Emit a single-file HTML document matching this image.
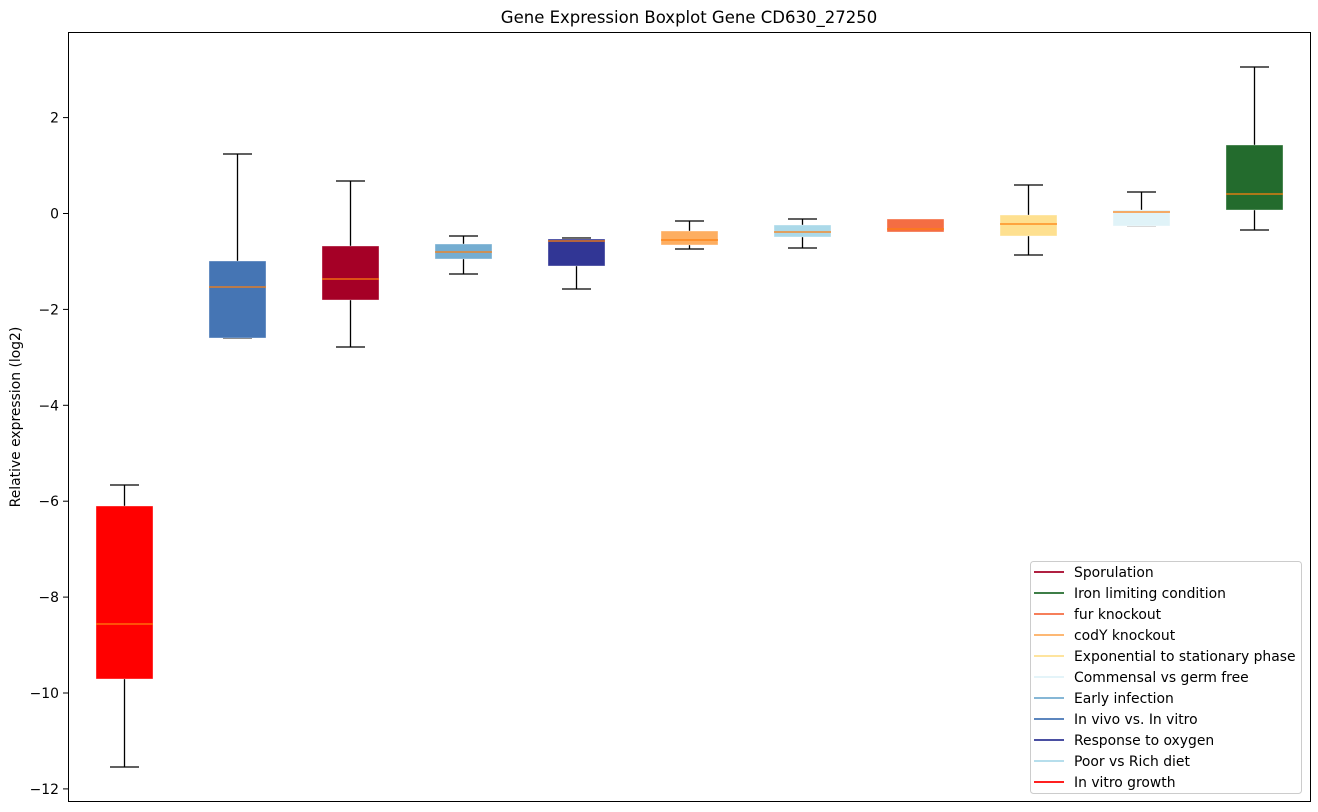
<!DOCTYPE html>
<html><head><meta charset="utf-8"><style>body{margin:0;background:#fff}svg{display:block;font-family:"DejaVu Sans","Liberation Sans",sans-serif}</style></head>
<body>
<svg width="1318" height="812" viewBox="0 0 1318 812" xmlns="http://www.w3.org/2000/svg">
<rect width="1318" height="812" fill="#fff"/>
<text x="689" y="23" font-size="16.5" text-anchor="middle" fill="#000">Gene Expression Boxplot Gene CD630_27250</text>
<g font-size="13.9" fill="#000" text-anchor="end">
<line x1="63" x2="68" y1="117.6" y2="117.6" stroke="#000"/><text x="59" y="122.6">2</text>
<line x1="63" x2="68" y1="213.5" y2="213.5" stroke="#000"/><text x="59" y="218.5">0</text>
<line x1="63" x2="68" y1="309.4" y2="309.4" stroke="#000"/><text x="59" y="314.4">−2</text>
<line x1="63" x2="68" y1="405.3" y2="405.3" stroke="#000"/><text x="59" y="410.3">−4</text>
<line x1="63" x2="68" y1="501.2" y2="501.2" stroke="#000"/><text x="59" y="506.2">−6</text>
<line x1="63" x2="68" y1="597.1" y2="597.1" stroke="#000"/><text x="59" y="602.1">−8</text>
<line x1="63" x2="68" y1="693" y2="693" stroke="#000"/><text x="59" y="698">−10</text>
<line x1="63" x2="68" y1="788.9" y2="788.9" stroke="#000"/><text x="59" y="793.9">−12</text>
</g>
<text transform="translate(20,417) rotate(-90)" font-size="13.9" text-anchor="middle">Relative expression (log2)</text>
<g stroke="#000" stroke-width="1.3">
<line x1="124.5" x2="124.5" y1="485" y2="506"/><line x1="124.5" x2="124.5" y1="679" y2="767"/><line x1="110" x2="139" y1="485" y2="485"/><line x1="110" x2="139" y1="767" y2="767"/>
<line x1="237.5" x2="237.5" y1="154" y2="261"/><line x1="223" x2="252" y1="154" y2="154"/><line x1="223" x2="252" y1="338" y2="338"/>
<line x1="350.5" x2="350.5" y1="181" y2="246"/><line x1="350.5" x2="350.5" y1="300" y2="347"/><line x1="336" x2="365" y1="181" y2="181"/><line x1="336" x2="365" y1="347" y2="347"/>
<line x1="463.5" x2="463.5" y1="236" y2="244"/><line x1="463.5" x2="463.5" y1="259" y2="274"/><line x1="449" x2="478" y1="236" y2="236"/><line x1="449" x2="478" y1="274" y2="274"/>
<line x1="576.5" x2="576.5" y1="266" y2="289"/><line x1="562" x2="591" y1="238" y2="238"/><line x1="562" x2="591" y1="289" y2="289"/>
<line x1="689.5" x2="689.5" y1="221" y2="231"/><line x1="689.5" x2="689.5" y1="245" y2="249"/><line x1="675" x2="704" y1="221" y2="221"/><line x1="675" x2="704" y1="249" y2="249"/>
<line x1="802.5" x2="802.5" y1="219" y2="225"/><line x1="802.5" x2="802.5" y1="237" y2="248"/><line x1="788" x2="817" y1="219" y2="219"/><line x1="788" x2="817" y1="248" y2="248"/>
<line x1="1028.5" x2="1028.5" y1="185" y2="215"/><line x1="1028.5" x2="1028.5" y1="236" y2="255"/><line x1="1014" x2="1043" y1="185" y2="185"/><line x1="1014" x2="1043" y1="255" y2="255"/>
<line x1="1141.5" x2="1141.5" y1="192" y2="210"/><line x1="1127" x2="1156" y1="192" y2="192"/><line x1="1127" x2="1156" y1="226" y2="226" stroke="#aaa"/>
<line x1="1254.5" x2="1254.5" y1="67" y2="145"/><line x1="1254.5" x2="1254.5" y1="210" y2="230"/><line x1="1240" x2="1269" y1="67" y2="67"/><line x1="1240" x2="1269" y1="230" y2="230"/>
</g>
<g stroke="#fff" stroke-width="0.6" stroke-opacity="0.6">
<rect x="96" y="506" width="57" height="173" fill="#ff0000"/>
<rect x="209" y="261" width="57" height="77" fill="#4575b4"/>
<rect x="322" y="246" width="57" height="54" fill="#a50026"/>
<rect x="435" y="244" width="57" height="15" fill="#74add1"/>
<rect x="548" y="239" width="57" height="27" fill="#313695"/>
<rect x="661" y="231" width="57" height="14" fill="#fdae61"/>
<rect x="774" y="225" width="57" height="12" fill="#abd9e9"/>
<rect x="887" y="219" width="57" height="13" fill="#f46d43"/>
<rect x="1000" y="215" width="57" height="21" fill="#fee090"/>
<rect x="1113" y="210" width="57" height="16" fill="#e0f3f8"/>
<rect x="1226" y="145" width="57" height="65" fill="#236b2d"/>
</g>
<g stroke="#ff7f0e" stroke-width="1.2">
<line x1="96" x2="153" y1="624" y2="624"/>
<line x1="209" x2="266" y1="287" y2="287"/>
<line x1="322" x2="379" y1="279" y2="279"/>
<line x1="435" x2="492" y1="252" y2="252"/>
<line x1="548" x2="605" y1="241" y2="241"/>
<line x1="661" x2="718" y1="240" y2="240"/>
<line x1="774" x2="831" y1="232" y2="232"/>
<line x1="887" x2="944" y1="229" y2="229"/>
<line x1="1000" x2="1057" y1="224" y2="224"/>
<line x1="1113" x2="1170" y1="212" y2="212"/>
<line x1="1226" x2="1283" y1="194" y2="194"/>
</g>
<rect x="68.5" y="32.5" width="1242" height="769" fill="none" stroke="#000" stroke-width="1"/>
<rect x="1030.5" y="561.5" width="271" height="232" rx="3" fill="#fff" fill-opacity="0.85" stroke="#ccc"/>
<g font-size="13.9" fill="#000" stroke-width="1.8">
<line x1="1034" x2="1064" y1="572" y2="572" stroke="#a50026"/><text x="1074" y="577">Sporulation</text>
<line x1="1034" x2="1064" y1="593" y2="593" stroke="#236b2d"/><text x="1074" y="598">Iron limiting condition</text>
<line x1="1034" x2="1064" y1="614" y2="614" stroke="#f46d43"/><text x="1074" y="619">fur knockout</text>
<line x1="1034" x2="1064" y1="635" y2="635" stroke="#fdae61"/><text x="1074" y="640">codY knockout</text>
<line x1="1034" x2="1064" y1="656" y2="656" stroke="#fee090"/><text x="1074" y="661">Exponential to stationary phase</text>
<line x1="1034" x2="1064" y1="677" y2="677" stroke="#e0f3f8"/><text x="1074" y="682">Commensal vs germ free</text>
<line x1="1034" x2="1064" y1="698" y2="698" stroke="#74add1"/><text x="1074" y="703">Early infection</text>
<line x1="1034" x2="1064" y1="719" y2="719" stroke="#4575b4"/><text x="1074" y="724">In vivo vs. In vitro</text>
<line x1="1034" x2="1064" y1="740" y2="740" stroke="#313695"/><text x="1074" y="745">Response to oxygen</text>
<line x1="1034" x2="1064" y1="761" y2="761" stroke="#abd9e9"/><text x="1074" y="766">Poor vs Rich diet</text>
<line x1="1034" x2="1064" y1="782" y2="782" stroke="#ff0000"/><text x="1074" y="787">In vitro growth</text>
</g>
</svg>
</body></html>
